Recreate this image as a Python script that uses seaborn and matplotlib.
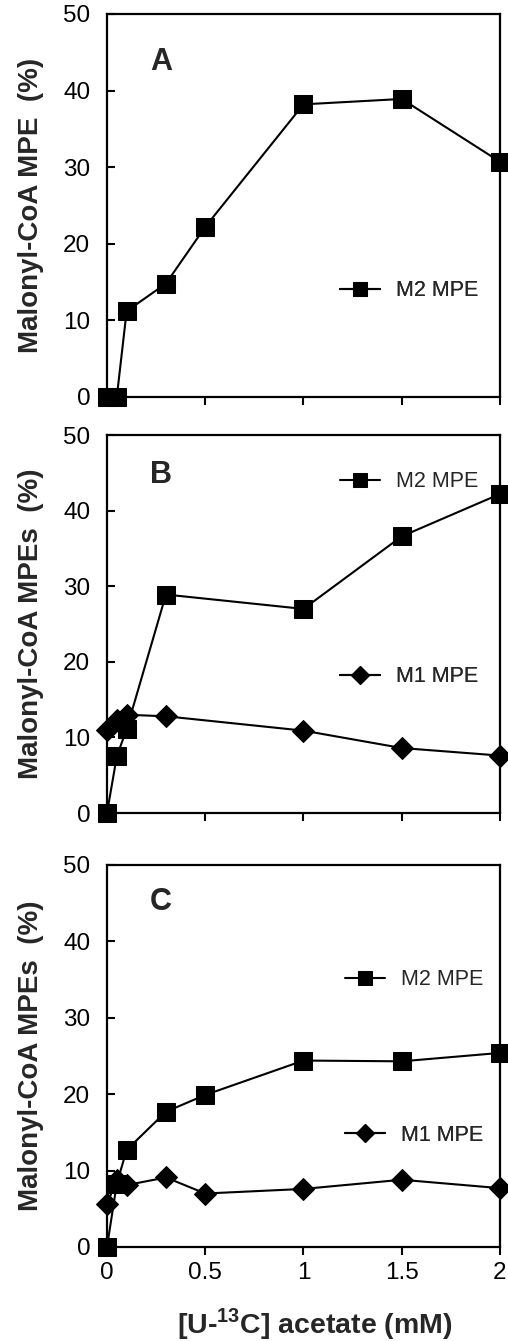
import matplotlib
matplotlib.use("Agg")

import matplotlib.pyplot as plt
import seaborn as sns

# data
conc_a = [0, 0.05, 0.1, 0.3, 0.5, 1, 1.5, 2]
m2_a = [0, 0, 11.2, 14.8, 22.2, 38.2, 38.9, 30.7]

conc_b = [0, 0.05, 0.1, 0.3, 1, 1.5, 2]
m2_b = [0, 7.5, 11.1, 28.9, 27.0, 36.6, 42.2]
m1_b = [11.0, 12.3, 13.0, 12.8, 10.9, 8.6, 7.6]

conc_c = [0, 0.05, 0.1, 0.3, 0.5, 1, 1.5, 2]
m2_c = [0, 8.3, 12.7, 17.7, 19.9, 24.4, 24.3, 25.4]
m1_c = [5.6, 8.8, 8.1, 9.1, 7.0, 7.6, 8.8, 7.7]

x_ticks = [0, 0.5, 1, 1.5, 2]
x_ticklabels = ["0", "0.5", "1", "1.5", "2"]
y_ticks = [0, 10, 20, 30, 40, 50]

sns.set_style("ticks")
plt.rcParams["font.family"] = ["Liberation Sans", "DejaVu Sans"]
plt.rcParams["mathtext.fontset"] = "custom"
plt.rcParams["mathtext.rm"] = "Liberation Sans"
plt.rcParams["mathtext.bf"] = "Liberation Sans:bold"

fig = plt.figure(figsize=(5.08, 13.41), dpi=100)
ax_a = fig.add_axes([0.2106, 0.7040, 0.7736, 0.2856])
ax_b = fig.add_axes([0.2106, 0.3937, 0.7736, 0.2819])
ax_c = fig.add_axes([0.2106, 0.0701, 0.7736, 0.2849])

line_kw = dict(color="black", linewidth=1.5, markeredgecolor="black",
               markerfacecolor="black")
sq_kw = dict(marker="s", markersize=12.5)
dm_kw = dict(marker="D", markersize=11.5)


def add_legend(ax, handle, text, x, y):
    leg = ax.legend([handle], [text], loc="center left", bbox_to_anchor=(x, y),
                    frameon=False, borderpad=0, borderaxespad=0,
                    handlelength=1.85, handletextpad=0.75, markerscale=0.8,
                    fontsize=15.5)
    ax.add_artist(leg)


# panel A
sns.lineplot(x=conc_a, y=m2_a, ax=ax_a, **line_kw, **sq_kw)
h = ax_a.lines[-1]
add_legend(ax_a, h, "M2 MPE", 0.593, 0.277)

# panel B
sns.lineplot(x=conc_b, y=m1_b, ax=ax_b, **line_kw, **dm_kw)
h1 = ax_b.lines[-1]
sns.lineplot(x=conc_b, y=m2_b, ax=ax_b, **line_kw, **sq_kw)
h2 = ax_b.lines[-1]
add_legend(ax_b, h2, "M2 MPE", 0.593, 0.876)
add_legend(ax_b, h1, "M1 MPE", 0.593, 0.360)

# panel C
sns.lineplot(x=conc_c, y=m1_c, ax=ax_c, **line_kw, **dm_kw)
h1 = ax_c.lines[-1]
sns.lineplot(x=conc_c, y=m2_c, ax=ax_c, **line_kw, **sq_kw)
h2 = ax_c.lines[-1]
add_legend(ax_c, h2, "M2 MPE", 0.606, 0.699)
add_legend(ax_c, h1, "M1 MPE", 0.606, 0.293)

labels = ["A", "B", "C"]
letter_y = [0.875, 0.894, 0.903]
ylabels = ["Malonyl-CoA MPE  (%)", "Malonyl-CoA MPEs  (%)", "Malonyl-CoA MPEs  (%)"]

for ax, lab, ly, yl in zip([ax_a, ax_b, ax_c], labels, letter_y, ylabels):
    for ln in ax.lines:
        ln.set_clip_on(False)
    ax.set_xlim(0, 2)
    ax.set_ylim(0, 50)
    ax.set_xticks(x_ticks)
    ax.set_yticks(y_ticks)
    for sp in ax.spines.values():
        sp.set_visible(True)
        sp.set_linewidth(1.6)
        sp.set_color("black")
    ax.tick_params(axis="y", direction="in", length=6, width=1.5, pad=12,
                   labelsize=17.5, colors="black")
    ax.tick_params(axis="x", direction="out", length=6, width=1.5, pad=5,
                   labelsize=17.5, colors="black")
    ax.set_ylabel(yl, fontsize=20, fontweight="bold")
    ax.yaxis.set_label_coords(-0.16, 0.5)
    ax.text(0.137, ly, lab, transform=ax.transAxes, ha="center", va="center",
            fontsize=22, fontweight="bold")

ax_a.set_xticklabels([])
ax_b.set_xticklabels([])
ax_c.set_xticklabels(x_ticklabels)
ax_a.set_xlabel("")
ax_b.set_xlabel("")
ax_c.set_xlabel("[U-$^{\\mathbf{13}}$C] acetate (mM)", fontsize=20.5, fontweight="bold")
ax_c.xaxis.set_label_coords(0.53, -0.155)

fig.savefig("out.png", dpi=100)
plt.close(fig)
